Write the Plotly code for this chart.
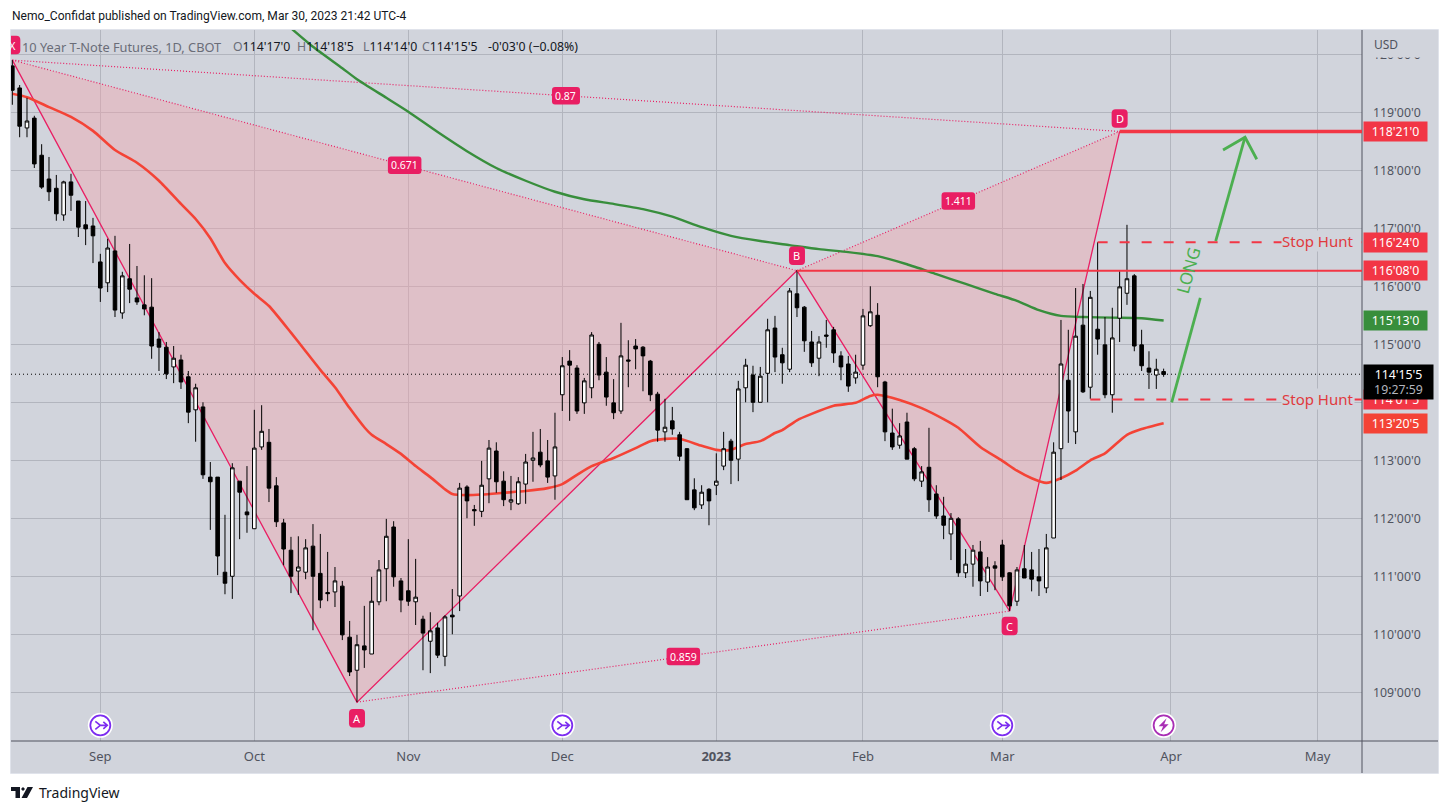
import plotly.graph_objects as go

# daily bars (decimal points, not 32nds)
bars = list(range(158))
opens = [
    119.80, 119.42, 118.73, 118.90, 118.26, 117.85, 117.69, 117.23, 117.80, 117.47,
    117.06, 117.04, 116.42, 116.06, 116.61, 115.54, 116.13, 115.80, 115.68, 115.64,
    115.09, 114.95, 114.61, 114.73, 114.44, 113.87, 113.92, 112.71, 112.71, 111.07,
    111.00, 112.64, 112.11, 111.82, 113.23, 113.31, 112.56, 111.92, 111.45, 111.09,
    111.07, 111.52, 111.05, 110.72, 110.73, 110.83, 109.95, 109.38, 109.80, 109.66,
    110.56, 111.13, 111.85, 110.92, 110.75, 110.56, 110.26, 109.88, 110.11, 109.62,
    110.33, 110.66, 112.54, 112.15, 112.12, 112.68, 113.16, 112.64, 112.28, 112.25,
    112.59, 113.00, 113.14, 112.99, 112.73, 114.13, 114.71, 114.59, 113.99, 114.25,
    115.00, 114.52, 113.99, 113.85, 114.73, 114.97, 114.95, 114.71, 114.14, 113.49,
    113.68, 113.44, 113.20, 112.49, 112.23, 112.50, 112.57, 112.90, 113.33, 113.02,
    114.25, 114.47, 114.00, 114.50, 115.28, 114.82, 114.57, 115.87, 115.64, 115.04,
    114.76, 115.16, 115.25, 114.80, 114.66, 114.42, 114.64, 115.32, 115.50, 114.35,
    113.47, 113.26, 113.66, 113.20, 112.64, 112.88, 112.42, 112.04, 111.73, 111.99,
    111.06, 111.21, 111.42, 110.90, 111.18, 111.54, 111.06, 110.57, 111.13, 111.11,
    110.99, 110.80, 111.66, 113.20, 114.38, 113.49, 115.33, 114.26, 115.26, 114.99,
    114.13, 115.45, 115.88, 116.18, 114.99, 114.59, 114.47, 114.53,
]
highs = [
    119.90, 119.47, 119.25, 118.94, 118.45, 118.23, 117.92, 117.82, 117.94, 117.47,
    117.47, 117.18, 116.56, 116.82, 116.87, 116.25, 116.73, 116.35, 116.19, 116.14,
    115.21, 115.04, 114.97, 114.82, 114.54, 114.32, 114.00, 112.97, 112.71, 112.06,
    112.95, 112.64, 112.90, 113.87, 113.95, 113.54, 112.71, 111.99, 111.68, 111.69,
    111.64, 111.90, 111.73, 111.42, 111.16, 110.92, 110.23, 109.99, 110.49, 110.99,
    111.28, 111.99, 111.95, 110.97, 111.64, 111.30, 110.32, 110.38, 110.20, 110.33,
    110.78, 112.61, 112.57, 112.23, 112.99, 113.35, 113.31, 112.81, 112.73, 112.71,
    113.11, 113.49, 113.54, 113.35, 113.82, 114.78, 114.90, 114.64, 114.42, 115.21,
    115.04, 114.78, 114.40, 115.37, 115.07, 115.09, 114.97, 114.73, 114.18, 114.06,
    113.92, 113.49, 113.21, 112.69, 112.57, 112.52, 113.12, 113.49, 113.37, 114.37,
    114.75, 114.63, 114.61, 115.44, 115.49, 114.94, 115.97, 116.28, 115.66, 115.23,
    115.14, 115.42, 115.30, 114.88, 114.80, 114.82, 115.61, 116.00, 115.71, 114.37,
    113.89, 113.64, 113.82, 113.23, 112.90, 113.56, 112.57, 112.37, 112.09, 112.02,
    111.47, 111.54, 111.61, 111.33, 111.26, 111.63, 111.07, 111.16, 111.54, 111.42,
    111.47, 111.73, 113.31, 115.42, 115.25, 115.97, 116.04, 115.92, 116.76, 115.47,
    115.63, 116.26, 117.06, 116.21, 115.25, 114.88, 114.75, 114.58,
]
lows = [
    119.13, 118.57, 118.57, 118.04, 117.68, 117.47, 117.13, 117.13, 117.30, 116.85,
    116.71, 116.40, 115.73, 115.90, 115.47, 115.44, 115.71, 115.68, 115.50, 114.75,
    114.54, 114.40, 114.33, 114.23, 113.64, 113.32, 112.68, 111.80, 111.02, 110.69,
    110.61, 111.64, 111.75, 111.82, 113.18, 112.28, 111.85, 111.19, 110.71, 110.68,
    110.95, 110.07, 110.45, 110.57, 110.47, 109.90, 109.28, 108.83, 109.42, 109.66,
    110.50, 110.57, 110.82, 110.38, 110.49, 110.16, 109.38, 109.33, 109.59, 109.45,
    110.00, 110.40, 112.00, 111.87, 112.02, 112.26, 112.44, 112.21, 112.14, 112.23,
    112.25, 112.63, 112.88, 112.61, 112.32, 113.85, 113.68, 113.80, 113.80, 114.07,
    114.38, 113.94, 113.71, 113.80, 114.26, 114.57, 114.19, 114.02, 113.32, 113.32,
    113.44, 112.99, 112.32, 112.14, 112.16, 111.88, 112.40, 112.83, 112.59, 112.64,
    114.00, 113.83, 114.00, 114.00, 114.52, 114.32, 114.52, 115.47, 114.87, 114.61,
    114.45, 114.94, 114.68, 114.38, 114.18, 114.32, 114.56, 115.30, 114.26, 113.33,
    113.18, 113.20, 113.02, 112.64, 112.54, 112.11, 111.99, 111.64, 111.28, 110.99,
    110.97, 110.82, 110.66, 110.73, 110.76, 110.92, 110.40, 110.49, 110.97, 110.74,
    110.66, 110.71, 111.66, 112.66, 113.30, 113.28, 114.16, 114.06, 114.82, 114.07,
    113.82, 115.04, 115.68, 114.88, 114.54, 114.23, 114.23, 114.44,
]
closes = [
    119.38, 118.76, 118.85, 118.11, 117.71, 117.63, 117.25, 117.80, 117.57, 117.02,
    116.99, 116.87, 115.97, 116.66, 115.59, 116.18, 115.95, 115.73, 115.61, 114.97,
    114.95, 114.49, 114.76, 114.35, 113.83, 114.25, 112.75, 112.63, 111.35, 110.88,
    112.87, 112.45, 112.06, 113.21, 113.50, 112.52, 111.94, 111.47, 111.00, 111.16,
    111.49, 111.00, 110.59, 110.70, 110.92, 109.99, 109.35, 109.82, 109.73, 110.57,
    111.11, 111.69, 110.99, 110.59, 110.57, 110.64, 110.02, 110.06, 109.64, 110.30,
    110.30, 112.52, 112.30, 112.13, 112.57, 113.21, 112.63, 112.32, 112.32, 112.63,
    112.97, 113.04, 112.92, 112.71, 113.23, 114.63, 114.64, 113.85, 114.37, 115.16,
    114.47, 114.09, 113.82, 114.80, 114.71, 114.92, 114.80, 114.13, 113.52, 113.57,
    113.54, 113.07, 112.32, 112.18, 112.45, 112.30, 112.64, 113.20, 113.00, 114.23,
    114.64, 114.00, 114.45, 115.25, 114.78, 114.68, 115.92, 115.63, 115.06, 114.68,
    115.04, 115.14, 114.85, 114.61, 114.28, 114.52, 115.49, 115.56, 114.44, 113.49,
    113.23, 113.42, 113.02, 112.68, 112.80, 112.32, 112.04, 111.88, 112.00, 111.06,
    111.21, 111.45, 110.92, 111.16, 111.14, 110.99, 110.49, 111.11, 110.97, 110.95,
    110.92, 111.49, 113.14, 114.66, 113.85, 115.14, 114.18, 115.81, 115.09, 114.13,
    115.11, 115.99, 116.13, 114.97, 114.63, 114.52, 114.57, 114.48,
]

# moving averages, read at the bars where the curve could be measured
red_ma_bars = [
    0, 2, 5, 8, 11, 14, 17, 20, 23, 25, 27, 29, 31, 33, 35, 38, 40, 42, 44, 46, 48, 49, 51,
    53, 55, 57, 59, 60, 62, 64, 67, 70, 73, 75, 77, 79, 82, 85, 87, 89, 91, 94, 96, 98, 100,
    102, 104, 105, 107, 109, 112, 115, 117, 118, 121, 124, 127, 129, 132, 135, 137, 139,
    141, 143, 145, 147, 149, 152, 154, 157,
]
red_ma = [
    119.32, 119.26, 119.09, 118.92, 118.68, 118.35, 118.13, 117.82, 117.42, 117.16, 116.83,
    116.40, 116.11, 115.87, 115.66, 115.20, 114.88, 114.56, 114.26, 113.90, 113.57, 113.44,
    113.28, 113.11, 112.90, 112.71, 112.50, 112.42, 112.40, 112.41, 112.44, 112.47, 112.52,
    112.59, 112.75, 112.90, 113.04, 113.21, 113.33, 113.37, 113.37, 113.25, 113.18, 113.18,
    113.28, 113.33, 113.47, 113.52, 113.69, 113.80, 113.94, 113.99, 114.11, 114.13, 114.04,
    113.90, 113.71, 113.56, 113.23, 112.99, 112.82, 112.69, 112.61, 112.69, 112.82, 113.00,
    113.12, 113.44, 113.54, 113.64,
]
green_ma_bars = [
    38, 41, 45, 47, 51, 54, 58, 62, 66, 70, 74, 78, 82, 86, 90, 94, 98, 102, 106, 110, 114,
    118, 122, 126, 130, 134, 137, 140, 143, 146, 150, 154, 157,
]
green_ma = [
    120.45, 120.13, 119.76, 119.57, 119.25, 119.01, 118.66, 118.33, 118.04, 117.82, 117.63,
    117.50, 117.42, 117.33, 117.20, 117.02, 116.87, 116.78, 116.71, 116.64, 116.59, 116.52,
    116.38, 116.21, 116.04, 115.87, 115.75, 115.59, 115.49, 115.47, 115.46, 115.45, 115.41,
]

# XABCD pattern
pattern_names = ["X", "A", "B", "C", "D"]
pattern_bars = [0, 47, 107, 136, 151]
pattern_prices = [119.90, 108.83, 116.27, 110.40, 118.67]
ratio_pairs = [("X", "D", "0.87"), ("X", "B", "0.671"), ("B", "D", "1.411"), ("A", "C", "0.859")]

# hand drawn levels and arrow
last_price = 114.484
stop_hi, stop_hi_start = 116.76, 148
stop_lo, stop_lo_start = 114.047, 147
level_b, level_d = 116.27, 118.67
arrow_bars = [158.1, 162.0, None, 164.1, 168.1, None, 165.1, 168.1, 169.7]
arrow_prices = [114.00, 115.80, None, 116.78, 118.57, None, 118.35, 118.57, 118.19]

month_bars = [12, 33, 54, 75, 96, 116, 135, 158, 178]
month_labels = ["Sep", "Oct", "Nov", "Dec", "<b>2023</b>", "Feb", "Mar", "Apr", "May"]
price_ticks = [109, 110, 111, 112, 113, 114, 115, 116, 117, 118, 119, 120]
price_labels = [f"{p}'00'0" for p in price_ticks]
event_bars = [12, 75, 135]
dividend_bar = 157
event_price = 108.43

W, H = 1449, 812
LEFT, RIGHT, TOP, BOTTOM = 11, 1362, 30, 741
X_RANGE = [-0.18, 184.05]
Y_RANGE = [108.16, 120.419]
BG = "#d1d4dc"
GRID = "#b2b5be"
PINK = "#e91e63"
RED = "#f23645"
FONT = "Noto Sans"


def px(x):
    return (x - LEFT) / (RIGHT - LEFT)


def py(y):
    return (BOTTOM - y) / (BOTTOM - TOP)


def round_rect(w, h, r, dy=0):
    a, b = -w / 2, w / 2
    c, d = dy - h / 2, dy + h / 2
    return (
        f"M {a+r} {c} L {b-r} {c} Q {b} {c} {b} {c+r} L {b} {d-r} Q {b} {d} {b-r} {d} "
        f"L {a+r} {d} Q {a} {d} {a} {d-r} L {a} {c+r} Q {a} {c} {a+r} {c} Z"
    )


def pixel_shape(x, y, path, **kw):
    return dict(
        type="path", xref="x", yref="y", xsizemode="pixel", ysizemode="pixel",
        xanchor=x, yanchor=y, path=path, layer="above", **kw,
    )


fig = go.Figure()

# pattern fill and lines sit on the base axes, under the candles
xs, ys = pattern_bars, pattern_prices
fig.add_scatter(
    x=[xs[0], xs[1], xs[2], xs[0], None, xs[2], xs[3], xs[4], xs[2]],
    y=[ys[0], ys[1], ys[2], ys[0], None, ys[2], ys[3], ys[4], ys[2]],
    mode="none", fill="toself", fillcolor="rgba(246,162,170,0.4)",
)
for a, b, _ in ratio_pairs:
    i, j = pattern_names.index(a), pattern_names.index(b)
    fig.add_scatter(
        x=[xs[i], xs[j]], y=[ys[i], ys[j]], mode="lines",
        line=dict(color=PINK, width=1.2, dash="1px,2px"),
    )
fig.add_scatter(x=xs, y=ys, mode="lines", line=dict(color=PINK, width=1.3))
fig.add_scatter(
    x=[X_RANGE[0], X_RANGE[1]], y=[last_price, last_price], mode="lines",
    line=dict(color="#000000", width=1, dash="1px,3px"),
)
fig.add_scatter(x=red_ma_bars, y=red_ma, mode="lines",
                line=dict(color="#f44336", width=2.6, shape="spline", smoothing=0.6))
fig.add_scatter(x=green_ma_bars, y=green_ma, mode="lines",
                line=dict(color="#388e3c", width=2.4, shape="spline", smoothing=0.6))
fig.add_scatter(x=arrow_bars, y=arrow_prices, mode="lines", line=dict(color="#4caf50", width=2.8))

# event bubbles at the bottom
all_events = event_bars + [dividend_bar]
fig.add_scatter(
    x=all_events, y=[event_price] * 4, mode="markers",
    marker=dict(size=25, color="#ffffff", line_width=0),
)
fig.add_scatter(
    x=event_bars, y=[event_price] * 3, mode="markers",
    marker=dict(size=20, color="#ffffff", line=dict(color="#7c2cf0", width=1.8)),
)
fig.add_scatter(
    x=[dividend_bar], y=[event_price], mode="markers",
    marker=dict(size=20, color="#ffffff", line=dict(color="#a92fb5", width=1.8)),
)

# candles go on an overlaying pair of axes so they stay on top of the lines
fig.add_candlestick(
    x=bars, open=opens, high=highs, low=lows, close=closes, xaxis="x2", yaxis="y2",
    whiskerwidth=0,
    increasing=dict(line=dict(color="#000000", width=1), fillcolor="#ffffff"),
    decreasing=dict(line=dict(color="#000000", width=1), fillcolor="#000000"),
)

shapes = [
    # side panels
    dict(type="rect", xref="paper", yref="paper", x0=1, x1=px(1438), y0=py(TOP), y1=py(773),
         fillcolor=BG, line_width=0, layer="below"),
    dict(type="rect", xref="paper", yref="paper", x0=0, x1=1, y0=py(741), y1=py(773),
         fillcolor=BG, line_width=0, layer="below"),
    # light frame around the whole chart
    dict(type="rect", xref="paper", yref="paper", x0=px(10.5), x1=px(1438.5), y0=py(29.5), y1=py(773.5),
         line=dict(color="#e0e3eb", width=1), layer="below"),
    # hides most of the 120 tick label, like the reference
    dict(type="rect", xref="paper", yref="paper", x0=px(1363), x1=px(1438), y0=py(TOP), y1=py(57.5),
         fillcolor=BG, line_width=0, layer="above"),
    dict(type="line", xref="paper", yref="paper", x0=1, x1=1, y0=py(TOP), y1=py(773),
         line=dict(color="#50535e", width=1), layer="above"),
    dict(type="line", xref="paper", yref="paper", x0=0, x1=px(1438), y0=0, y1=0,
         line=dict(color="#50535e", width=1), layer="above"),
    # levels
    dict(type="line", x0=pattern_bars[4], x1=X_RANGE[1], y0=level_d, y1=level_d,
         line=dict(color=RED, width=3.5), layer="above"),
    dict(type="line", x0=pattern_bars[2], x1=X_RANGE[1], y0=level_b, y1=level_b,
         line=dict(color=RED, width=2), layer="above"),
    dict(type="line", x0=stop_hi_start, x1=X_RANGE[1], y0=stop_hi, y1=stop_hi,
         line=dict(color=RED, width=2, dash="10px,12px"), layer="above"),
    dict(type="line", x0=stop_lo_start, x1=X_RANGE[1], y0=stop_lo, y1=stop_lo,
         line=dict(color=RED, width=2, dash="10px,12px"), layer="above"),
    # TradingView logo
    dict(type="path", xref="paper", yref="paper", fillcolor="#131722", line_width=0,
         path=" ".join([
             f"M {px(11)} {py(787)} L {px(20)} {py(787)} L {px(20)} {py(798)} L {px(15.5)} {py(798)}"
             f" L {px(15.5)} {py(791)} L {px(11)} {py(791)} Z",
             f"M {px(27.5)} {py(787)} L {px(33)} {py(787)} L {px(27)} {py(798)} L {px(21.5)} {py(798)} Z",
             f"M {px(21)} {py(789)} L {px(23)} {py(787)} L {px(25)} {py(789)} L {px(23)} {py(791)} Z",
         ])),
]

# glyphs in the event bubbles
for b in event_bars:
    shapes.append(pixel_shape(
        b, event_price,
        "M -5 4 L 0 0 L -5 -4 M 0 0 L 7 0 M 3 3.5 L 7 0 L 3 -3.5",
        line=dict(color="#7c2cf0", width=1.6),
    ))
shapes.append(pixel_shape(
    dividend_bar, event_price, "M 3 7 L -5 -1 L -0.5 -1 L -3 -7 L 5 1 L 0.5 1 Z",
    fillcolor="#a92fb5", line_width=0,
))

annotations = []


def add_text(text, x, y, size=12.3, color="#131722", family=FONT):
    annotations.append(dict(
        text=text, x=x, y=y, xref="paper", yref="paper", xanchor="left", yanchor="middle",
        showarrow=False, font=dict(family=family, size=size, color=color), borderpad=0,
    ))


# ratio and point badges
for a, b, label in ratio_pairs:
    i, j = pattern_names.index(a), pattern_names.index(b)
    mx, my = (xs[i] + xs[j]) / 2, (ys[i] + ys[j]) / 2
    shapes.append(pixel_shape(mx, my, round_rect(6 + 5.5 * len(label), 17.5, 3),
                              fillcolor=PINK, line_width=0))
    annotations.append(dict(text=label, x=mx, y=my, showarrow=False,
                            font=dict(family=FONT, size=10.5, color="#ffffff")))

point_offsets = [15, -16, 15, -15, 13]
for name, b, p, dy in zip(pattern_names, xs, ys, point_offsets):
    shapes.append(pixel_shape(b, p, round_rect(16, 18.5, 4, dy), fillcolor=PINK, line_width=0))
    annotations.append(dict(text=name, x=b, y=p, yshift=dy, showarrow=False,
                            font=dict(family=FONT, size=11, color="#ffffff")))

# header, legend, footer
add_text("Nemo_Confidat published on TradingView.com, Mar 30, 2023 21:42 UTC-4", px(11), py(16),
         size=12.05, family="Roboto")
GREY = "#6a6d78"


def ohlc_part(tag, value):
    return f"<span style='color:{GREY}'>{tag}</span>{value}"


add_text("10 Year T-Note Futures, 1D, CBOT", px(21), py(47), size=12.8, color=GREY)
legend_parts = [
    (232, ohlc_part("O", "114'17'0")),
    (296, ohlc_part("H", "114'18'5")),
    (362, ohlc_part("L", "114'14'0")),
    (421, ohlc_part("C", "114'15'5")),
    (487, "-0'03'0 (−0.08%)"),
]
for left, part in legend_parts:
    add_text(part, px(left), py(47))
add_text("USD", px(1373), py(45), size=12, color="#50535e")
add_text("TradingView", px(38), py(792.5), size=14)

# arrow caption and stop hunt notes
annotations.append(dict(
    text="LONG", x=px(1207.7), y=py(270), xref="paper", yref="paper", showarrow=False,
    textangle=-74.4, font=dict(family=FONT, size=17, color="#4caf50"),
))
for level in (stop_hi, stop_lo):
    annotations.append(dict(
        text="Stop Hunt", x=px(1354.5), y=level, xref="paper", yref="y", xanchor="right",
        yshift=1, showarrow=False, bgcolor=BG, borderpad=0,
        font=dict(family=FONT, size=15, color="#e03a3e"),
    ))


# price tags on the axis
def add_tag(text, y, color, w=63, h=19, yref="y"):
    annotations.append(dict(
        text=text, x=px(1363), y=y, xref="paper", yref=yref, xanchor="left", yanchor="middle",
        showarrow=False, width=w, height=h, bgcolor=color, borderpad=0, align="center",
        font=dict(family=FONT, size=12.3, color="#ffffff"),
    ))


add_tag("118'21'0", level_d, RED)
add_tag("116'24'0", stop_hi, RED)
add_tag("116'08'0", level_b, RED)
add_tag("115'13'0", green_ma[-1], "#388e3c")
add_tag("114'01'5", stop_lo, RED)
add_tag("113'20'5", red_ma[-1], "#f44336")
add_tag("114'15'5<br><span style='color:#b2b5be'>19:27:59</span>", py(382), "#000000",
        w=69, h=34, yref="paper")

fig.update_layout(
    width=W, height=H,
    margin=dict(l=LEFT, r=W - RIGHT, t=TOP, b=H - BOTTOM, pad=0),
    paper_bgcolor="#ffffff", plot_bgcolor=BG,
    showlegend=False, hovermode=False,
    font=dict(family=FONT, size=13, color="#50535e"),
    shapes=shapes, annotations=annotations,
    xaxis=dict(
        range=X_RANGE, tickmode="array", tickvals=month_bars, ticktext=month_labels,
        showgrid=True, gridcolor=GRID, gridwidth=1, zeroline=False, showline=False,
        ticks="", ticklabelstandoff=6, tickfont=dict(size=13, color="#50535e"),
    ),
    yaxis=dict(
        range=Y_RANGE, side="right", tickmode="array", tickvals=price_ticks, ticktext=price_labels,
        showgrid=True, gridcolor=GRID, gridwidth=1, zeroline=False, showline=False,
        ticks="", ticklabelstandoff=10, tickfont=dict(size=12.3, color="#50535e"),
    ),
    xaxis2=dict(range=X_RANGE, overlaying="x", anchor="y2", visible=False,
                rangeslider=dict(visible=False)),
    yaxis2=dict(range=Y_RANGE, overlaying="y", anchor="x2", visible=False),
)

fig.write_html("out.html", config={"displayModeBar": False},
               post_script="document.body.style.margin='0';")
